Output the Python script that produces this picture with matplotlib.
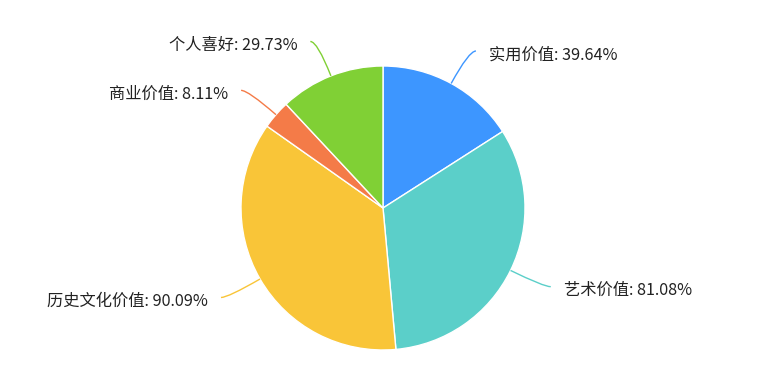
import numpy as np
import matplotlib
matplotlib.use("Agg")
import matplotlib.pyplot as plt
from matplotlib.path import Path
from matplotlib.patches import PathPatch

plt.rcParams['font.family'] = ['Noto Sans CJK SC', 'DejaVu Sans']

categories = ["实用价值", "艺术价值", "历史文化价值", "商业价值", "个人喜好"]
values = [39.64, 81.08, 90.09, 8.11, 29.73]
colors = ["#3d96ff", "#5bcfc9", "#f9c538", "#f47b48", "#80d035"]

W, H = 759, 382
fig = plt.figure(figsize=(W / 100, H / 100), dpi=100)
ax = fig.add_axes([0, 0, 1, 1])

cx, cy, r = 383, H - 208, 142
leader_r, leader_h, text_gap = 179, 7, 13

wedges, _ = ax.pie(values, colors=colors, startangle=90, counterclock=False,
                   center=(cx, cy), radius=r, frame=True,
                   wedgeprops=dict(edgecolor="white", linewidth=1))
ax.set_xlim(0, W)
ax.set_ylim(0, H)
ax.set_aspect("equal")
ax.axis("off")

for w, name, val, col in zip(wedges, categories, values, colors):
    mid = np.deg2rad((w.theta1 + w.theta2) / 2)
    d = np.array([np.cos(mid), np.sin(mid)])
    p0 = np.array([cx, cy]) + r * d
    p1 = np.array([cx, cy]) + leader_r * d
    side = 1 if d[0] >= 0 else -1
    p2 = p1 + np.array([leader_h * side, 0])
    path = Path([p0, p1, p2], [Path.MOVETO, Path.CURVE3, Path.CURVE3])
    ax.add_patch(PathPatch(path, facecolor="none", edgecolor=col, linewidth=1))
    ax.text(p2[0] + text_gap * side, p2[1] - 4, f"{name}: {val:.2f}%",
            ha="left" if side > 0 else "right", va="center",
            fontsize=11.7, color="#222222")

fig.savefig("out.png", dpi=100)
